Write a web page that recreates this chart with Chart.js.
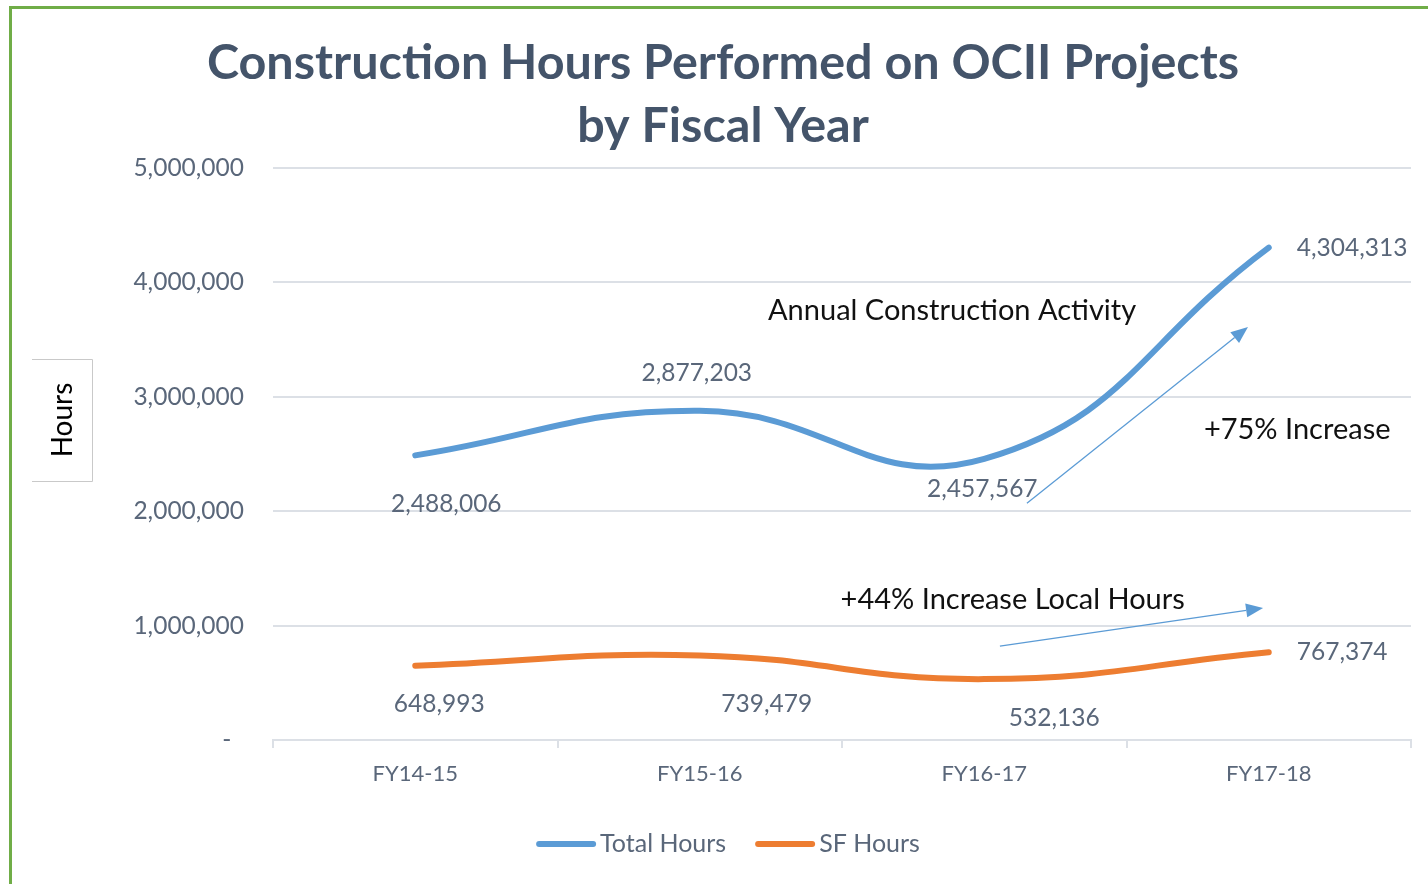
<!DOCTYPE html>
<html><head><meta charset="utf-8">
<script src="https://cdn.jsdelivr.net/npm/chart.js@4.4.1/dist/chart.umd.min.js"></script>
<style>
html,body{margin:0;padding:0;background:#fff;}
#wrap{position:relative;width:1428px;height:884px;overflow:hidden;}
#frame{position:absolute;left:9px;top:6px;right:-5px;bottom:-5px;border-left:3px solid #70AD47;border-top:3px solid #70AD47;pointer-events:none;}
canvas{position:absolute;left:0;top:0;}
</style></head><body>
<div id="wrap"><canvas id="c" width="1428" height="884"></canvas><div id="frame"></div></div>
<script>
// ---- data ----
const categories = ['FY14-15', 'FY15-16', 'FY16-17', 'FY17-18'];
const totalHours = [2488006, 2877203, 2457567, 4304313];
const sfHours = [648993, 739479, 532136, 767374];
const yTickValues = [0, 1000000, 2000000, 3000000, 4000000, 5000000];
const seriesNames = ['Total Hours', 'SF Hours'];
const titleLines = ['Construction Hours Performed on OCII Projects', 'by Fiscal Year'];
const yAxisTitle = 'Hours';
const noteTexts = ['Annual Construction Activity', '+75% Increase', '+44% Increase Local Hours'];

// ---- annotation placement (data space) ----
const notePlaces = [[1.887, 3750000], [3.10, 2710000], [2.10, 1224000]];
const arrowPlaces = [[[2.15, 2070000], [2.927, 3610000]], [[2.055, 820000], [2.98, 1154000]]];
// data label offsets from each point: [dx, dy, align]
const labelOffsets = [
  [[31, 49, 'center'], [-3, -38, 'center'], [-2, 30, 'center'], [28, 1, 'left']],
  [[24, 38, 'center'], [67, 49, 'center'], [70, 39, 'center'], [28, 0, 'left']]
];

const FONT = 'Lato, "Open Sans", sans-serif';
const TEXT_COLOR = '#5A677A';
const GRID = '#DCE0E6';
const BLUE = '#5B9BD5', ORANGE = '#ED7D31';
const fmt = v => v.toLocaleString('en-US');

const decor = {
  id: 'decor',
  afterDraw(chart) {
    const ctx = chart.ctx, x = chart.scales.x, y = chart.scales.y;
    ctx.save();
    // title
    ctx.fillStyle = '#44546A';
    ctx.font = 'bold 48.5px ' + FONT;
    ctx.textAlign = 'center'; ctx.textBaseline = 'middle';
    titleLines.forEach((t, i) => ctx.fillText(t, 723, 63 + i * 63));
    // y axis title box
    ctx.strokeStyle = '#C9C9C9'; ctx.lineWidth = 1;
    ctx.beginPath();
    ctx.moveTo(32, 359.5); ctx.lineTo(92.5, 359.5); ctx.lineTo(92.5, 481.5); ctx.lineTo(32, 481.5);
    ctx.stroke();
    ctx.save();
    ctx.translate(63, 420); ctx.rotate(-Math.PI / 2);
    ctx.fillStyle = '#000'; ctx.font = '28px ' + FONT;
    ctx.fillText(yAxisTitle, 0, 0);
    ctx.restore();
    // data labels
    ctx.font = '24.5px ' + FONT; ctx.fillStyle = TEXT_COLOR;
    chart.data.datasets.forEach((ds, di) => {
      chart.getDatasetMeta(di).data.forEach((pt, i) => {
        const o = labelOffsets[di][i];
        ctx.textAlign = o[2];
        ctx.fillText(fmt(ds.data[i]), pt.x + o[0], pt.y + o[1]);
      });
    });
    // arrows
    ctx.strokeStyle = BLUE; ctx.fillStyle = BLUE; ctx.lineWidth = 1.3;
    arrowPlaces.forEach(([a, b]) => {
      const x1 = x.getPixelForValue(a[0]), y1 = y.getPixelForValue(a[1]);
      const x2 = x.getPixelForValue(b[0]), y2 = y.getPixelForValue(b[1]);
      const ang = Math.atan2(y2 - y1, x2 - x1), L = 17, W = 7;
      const bx = x2 - L * Math.cos(ang), by = y2 - L * Math.sin(ang);
      ctx.beginPath(); ctx.moveTo(x1, y1); ctx.lineTo(bx, by); ctx.stroke();
      ctx.beginPath(); ctx.moveTo(x2, y2);
      ctx.lineTo(bx + W * Math.sin(ang), by - W * Math.cos(ang));
      ctx.lineTo(bx - W * Math.sin(ang), by + W * Math.cos(ang));
      ctx.closePath(); ctx.fill();
    });
    // notes
    ctx.fillStyle = '#111'; ctx.font = '29px ' + FONT; ctx.textAlign = 'center';
    noteTexts.forEach((t, i) => {
      ctx.fillText(t, x.getPixelForValue(notePlaces[i][0]), y.getPixelForValue(notePlaces[i][1]));
    });
    // legend
    ctx.font = '25px ' + FONT; ctx.textAlign = 'left';
    const LW = 60, GAP = 4, SEP = 29, LY = 844;
    const items = chart.data.datasets.map(ds => ({ text: ds.label, color: ds.borderColor, w: ctx.measureText(ds.label).width }));
    const total = items.reduce((s, it) => s + LW + GAP + it.w, 0) + SEP * (items.length - 1);
    let lx = 728 - total / 2;
    items.forEach(it => {
      ctx.strokeStyle = it.color; ctx.lineWidth = 6; ctx.lineCap = 'round';
      ctx.beginPath(); ctx.moveTo(lx + 3, LY); ctx.lineTo(lx + LW - 3, LY); ctx.stroke();
      ctx.fillStyle = TEXT_COLOR;
      ctx.fillText(it.text, lx + LW + GAP, LY);
      lx += LW + GAP + it.w + SEP;
    });
    ctx.restore();
  }
};

new Chart(document.getElementById('c'), {
  type: 'line',
  data: {
    labels: categories,
    datasets: [
      { label: seriesNames[0], data: totalHours, borderColor: BLUE, backgroundColor: BLUE },
      { label: seriesNames[1], data: sfHours, borderColor: ORANGE, backgroundColor: ORANGE }
    ]
  },
  options: {
    responsive: false, animation: false,
    devicePixelRatio: 1,
    layout: { padding: { top: 168, bottom: 71, left: 0, right: 0 } },
    elements: {
      line: { borderWidth: 6, tension: 0.45, borderCapStyle: 'round', fill: false },
      point: { radius: 0, hoverRadius: 0 }
    },
    plugins: {
      title: { display: false },
      tooltip: { enabled: false },
      legend: { display: false }
    },
    scales: {
      x: {
        offset: true,
        grid: { offset: true, drawOnChartArea: false, drawTicks: true, tickLength: 8, color: GRID, lineWidth: 2 },
        border: { display: true, color: GRID, width: 2 },
        ticks: { font: { family: FONT, size: 22 }, color: TEXT_COLOR, padding: 13 },
        afterFit: s => { s.height = 73; }
      },
      y: {
        min: 0, max: 5000000,
        afterBuildTicks: s => { s.ticks = yTickValues.map(v => ({ value: v })); },
        grid: { color: GRID, lineWidth: 2, drawTicks: false },
        border: { display: false },
        ticks: {
          font: { family: FONT, size: 24.5 }, color: TEXT_COLOR, padding: 29,
          callback: v => v === 0 ? '-  ' : fmt(v)
        },
        afterFit: s => { s.width = 273; }
      },
      yR: {
        position: 'right', display: true,
        grid: { display: false }, border: { display: false },
        ticks: { display: false },
        afterFit: s => { s.width = 17; }
      }
    }
  },
  plugins: [decor]
});
</script>
</body></html>
